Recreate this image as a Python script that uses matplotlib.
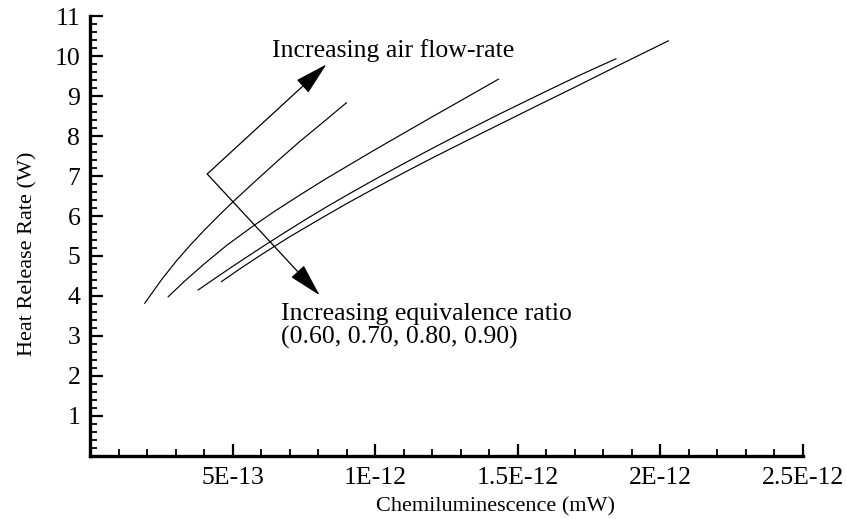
import matplotlib
matplotlib.use("Agg")
import matplotlib.pyplot as plt
from matplotlib.ticker import MultipleLocator

plt.rcParams['font.family'] = ['Liberation Serif', 'DejaVu Serif']

# Data (x in units of 1E-13 mW, y in W)
x_c1 = [1.92, 2.5, 3.0, 3.5, 4.0, 4.5, 5.02, 5.84, 6.6, 7.35, 8.2, 8.99]
y_c1 = [3.82, 4.4, 4.85, 5.26, 5.64, 6.0, 6.36, 6.9, 7.39, 7.86, 8.36, 8.83]

x_c2 = [2.74, 3.3, 4.0, 4.8, 5.78, 6.5, 7.35, 8.2, 9.1, 10.0, 11.0, 12.0, 13.04, 14.32]
y_c2 = [3.98, 4.36, 4.8, 5.27, 5.78, 6.13, 6.52, 6.9, 7.28, 7.66, 8.07, 8.48, 8.9, 9.42]

x_c3 = [3.79, 4.4, 5.0, 6.0, 6.7, 7.53, 8.3, 9.1, 10.0, 11.0, 12.0, 13.0, 14.36, 16.0, 17.2, 18.44]
y_c3 = [4.15, 4.45, 4.74, 5.21, 5.53, 5.9, 6.23, 6.56, 6.92, 7.31, 7.69, 8.06, 8.55, 9.12, 9.53, 9.93]

x_c4 = [4.61, 5.3, 6.0, 7.0, 8.05, 9.0, 10.0, 11.0, 12.0, 13.2, 14.36, 15.6, 17.0, 18.6, 20.28]
y_c4 = [4.36, 4.7, 5.03, 5.48, 5.92, 6.31, 6.7, 7.08, 7.45, 7.88, 8.29, 8.73, 9.22, 9.79, 10.38]

curves_x = [x_c1, x_c2, x_c3, x_c4]
curves_y = [y_c1, y_c2, y_c3, y_c4]

xtick_vals = [5e-13, 1e-12, 1.5e-12, 2e-12, 2.5e-12]
xtick_labels = ['5E-13', '1E-12', '1.5E-12', '2E-12', '2.5E-12']
ytick_vals = [1, 2, 3, 4, 5, 6, 7, 8, 9, 10, 11]
ytick_labels = ['1', '2', '3', '4', '5', '6', '7', '8', '9', '10', '11']

# Annotation arrows (corner and tips, data units)
arrow_corner = (4.11e-13, 7.05)
arrow_up_tip = (8.29e-13, 9.79)
arrow_down_tip = (8.05e-13, 4.02)

scale = 1e-13

fig = plt.figure(figsize=(8.46, 5.19), dpi=100)
ax = fig.add_axes([90/846, 63/519, 713/846, 440/519])

for xs, ys in zip(curves_x, curves_y):
    ax.plot([v * scale for v in xs], ys, color='black', lw=0.85)

ax.set_xlim(0, 2.5e-12)
ax.set_ylim(0, 11)

ax.set_xticks(xtick_vals)
ax.set_xticklabels(xtick_labels)
ax.set_yticks(ytick_vals)
ax.set_yticklabels(ytick_labels)
ax.xaxis.set_minor_locator(MultipleLocator(1e-13))
ax.yaxis.set_minor_locator(MultipleLocator(0.2))

for s in ['top', 'right']:
    ax.spines[s].set_visible(False)
for s in ['left', 'bottom']:
    ax.spines[s].set_linewidth(2.4)

ax.tick_params(which='major', direction='in', length=9, width=1.6, labelsize=18.5, pad=7)
ax.tick_params(which='minor', direction='in', length=5, width=1.3)
ax.tick_params(axis='x', which='major', pad=8)

ax.set_xlabel('Chemiluminescence (mW)', fontsize=16)
ax.xaxis.set_label_coords(0.569, -0.093)
ax.set_ylabel('Heat Release Rate (W)', fontsize=16)
ax.yaxis.set_label_coords(-0.073, 0.46)

arrow_style = '-|>,head_length=2.1,head_width=0.55'
for tip in [arrow_up_tip, arrow_down_tip]:
    ax.annotate('', xy=tip, xytext=arrow_corner,
                arrowprops=dict(arrowstyle=arrow_style, color='black', lw=0.9,
                                mutation_scale=10, shrinkA=0, shrinkB=0))

ax.text(6.38e-13, 9.98, 'Increasing air flow-rate', fontsize=18.5, va='baseline', ha='left')
ax.text(6.71e-13, 3.4, 'Increasing equivalence ratio', fontsize=18.5, va='baseline', ha='left')
ax.text(6.71e-13, 2.8, '(0.60, 0.70, 0.80, 0.90)', fontsize=18.5, va='baseline', ha='left')

fig.savefig('out.png', dpi=100)
